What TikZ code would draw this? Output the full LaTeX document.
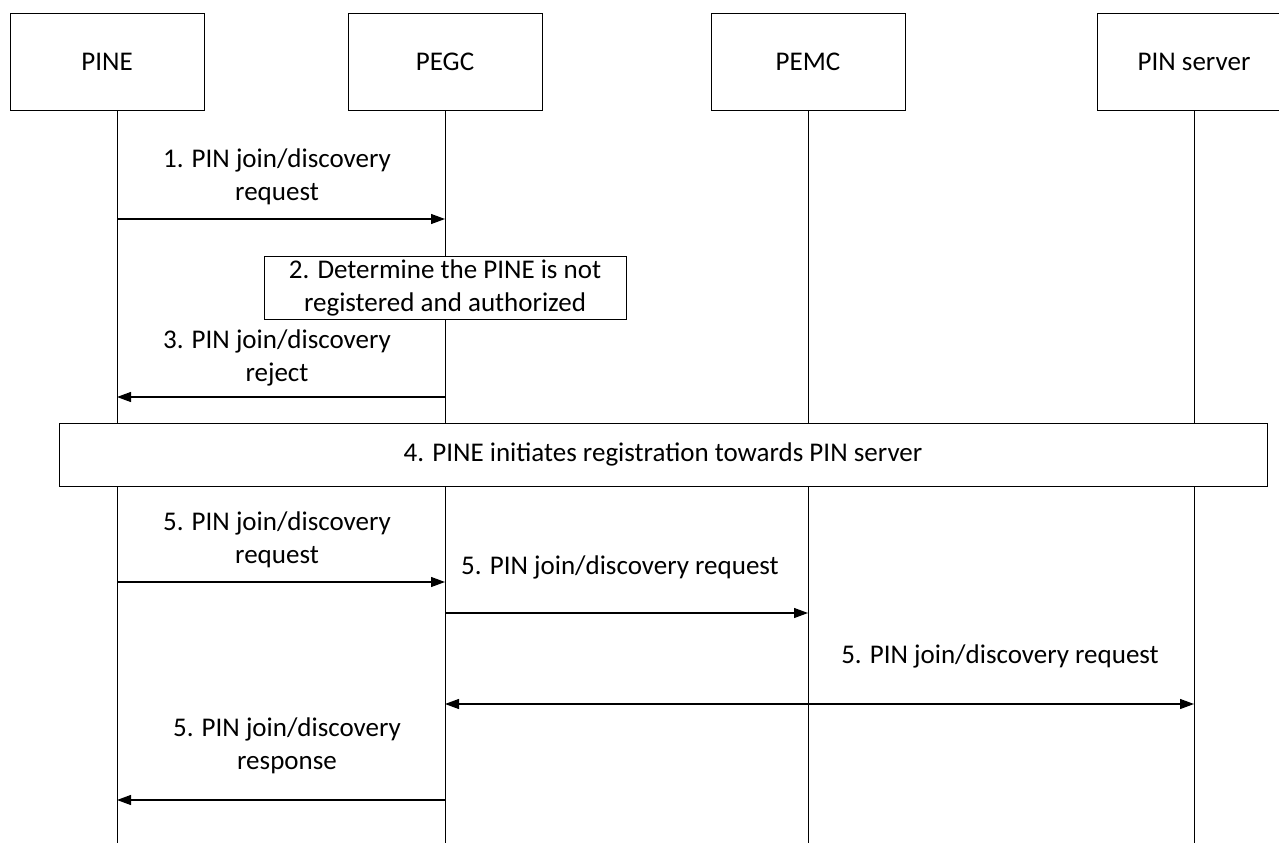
\documentclass[tikz,border=0pt]{standalone}
\usepackage{fontspec}
\setmainfont{Carlito}
\usetikzlibrary{arrows.meta}

\begin{document}
\begin{tikzpicture}[x=1pt, y=-1pt, font=\fontsize{27}{33}\selectfont,
  entity/.style={draw, line width=1pt, minimum width=194pt, minimum height=96pt, inner sep=0pt},
  stepbox/.style={draw, fill=white, line width=1pt, inner sep=0pt, align=center},
  lbl/.style={align=center, inner sep=0pt},
  life/.style={line width=1pt},
  msg/.style={line width=1.2pt, -{Triangle[length=14pt, width=10pt]}}]
\useasboundingbox (0,0) rectangle (1279,843);
% entities
\node[entity] (pine) at (107,62) {PINE};
\node[entity] (pegc) at (445,62) {PEGC};
\node[entity] (pemc) at (808,62) {PEMC};
\node[entity] (pins) at (1194,62) {PIN server};
\coordinate (pineEnd) at (117,843);
\coordinate (pegcEnd) at (445,843);
\coordinate (pemcEnd) at (808,843);
\coordinate (pinsEnd) at (1194,843);
\draw[life] (117,110) -- (pineEnd);
\draw[life] (pegc.south) -- (pegcEnd);
\draw[life] (pemc.south) -- (pemcEnd);
\draw[life] (pins.south) -- (pinsEnd);
% message points on the lifelines
\coordinate (a1) at (117,219); \coordinate (b1) at (445,219);
\coordinate (a3) at (117,397); \coordinate (b3) at (445,397);
\coordinate (a5) at (117,582); \coordinate (b5) at (445,582);
\coordinate (b6) at (445,613); \coordinate (c6) at (808,613);
\coordinate (b7) at (445,704); \coordinate (d7) at (1194,704);
\coordinate (a8) at (117,800); \coordinate (b8) at (445,800);
% 1.
\node[lbl] (m1) at (277,177) {1. PIN join/discovery\\request};
\draw[msg] (a1) -- (b1);
% 2.
\node[stepbox, minimum width=362pt, minimum height=63pt] (s2) at (445,287.5) {2. Determine the PINE is not\\registered and authorized};
% 3.
\node[lbl] (m3) at (277,358) {3. PIN join/discovery\\reject};
\draw[msg] (b3) -- (a3);
% 4.
\node[stepbox, minimum width=1208pt, minimum height=63pt] (s4) at (663,454.5) {4. PINE initiates registration towards PIN server};
% 5.
\node[lbl] (m5a) at (277,540) {5. PIN join/discovery\\request};
\draw[msg] (a5) -- (b5);
\node[lbl] (m5b) at (620,567) {5. PIN join/discovery request};
\draw[msg] (b6) -- (c6);
\node[lbl] (m5c) at (1000,656) {5. PIN join/discovery request};
\draw[msg, {Triangle[length=14pt, width=10pt]}-{Triangle[length=14pt, width=10pt]}] (b7) -- (d7);
\node[lbl] (m5d) at (287,746) {5. PIN join/discovery\\response};
\draw[msg] (b8) -- (a8);
\end{tikzpicture}
\end{document}
